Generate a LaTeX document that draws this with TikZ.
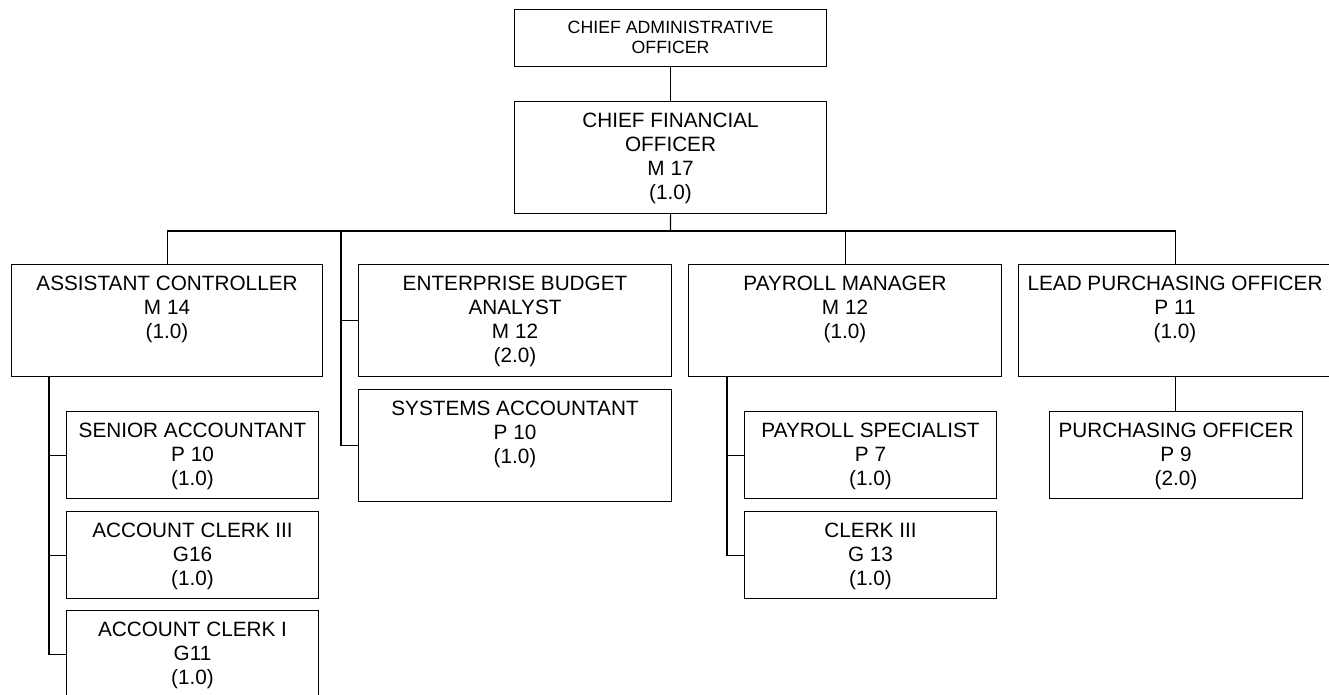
\documentclass[tikz,border=0pt]{standalone}
\usepackage{fontspec}
\setmainfont{Liberation Sans}
\usetikzlibrary{positioning}

\newlength{\pxu}
\setlength{\pxu}{0.75pt}
% text of a post box: width, height, lines
\newcommand{\posttext}[3]{\parbox[c][#2\pxu][t]{#1\pxu}{\centering
  \fontsize{15.55pt}{18pt}\selectfont\rule{0pt}{26\pxu}#3}}
\newcommand{\toptext}[3]{\parbox[c][#2\pxu][t]{#1\pxu}{\centering
  \fontsize{13.3pt}{15pt}\selectfont\rule{0pt}{24\pxu}#3}}

\begin{document}
\begin{tikzpicture}[x=0.75pt,y=-0.75pt]
        \clip (0,0) rectangle (1329,695);
        \begin{scope}[every node/.style={draw,line width=0.8pt,rectangle,inner sep=0pt,anchor=north west}]
          \node (cao) at (514,9) {\toptext{312}{57}{CHIEF ADMINISTRATIVE\\OFFICER}};
          \node (cfo) at (514,101) {\posttext{312}{112}{CHIEF FINANCIAL\\OFFICER\\M 17\\(1.0)}};
          \node (ac) at (11,264) {\posttext{311}{112}{ASSISTANT CONTROLLER\\M 14\\(1.0)}};
          \node (eba) at (358,264) {\posttext{313}{112}{ENTERPRISE BUDGET\\ANALYST\\M 12\\(2.0)}};
          \node (sa) at (358,389) {\posttext{313}{112}{SYSTEMS ACCOUNTANT\\P 10\\(1.0)}};
          \node (pm) at (688,264) {\posttext{313}{112}{PAYROLL MANAGER\\M 12\\(1.0)}};
          \node (lpo) at (1018,264) {\posttext{313}{112}{LEAD PURCHASING OFFICER\\P 11\\(1.0)}};
          \node (sen) at (66,411) {\posttext{252}{87}{SENIOR ACCOUNTANT\\P 10\\(1.0)}};
          \node (ac3) at (66,511) {\posttext{252}{87}{ACCOUNT CLERK III\\G16\\(1.0)}};
          \node (ac1) at (66,610) {\posttext{252}{87}{ACCOUNT CLERK I\\G11\\(1.0)}};
          \node (ps) at (744,411) {\posttext{252}{87}{PAYROLL SPECIALIST\\P 7\\(1.0)}};
          \node (ck3) at (744,511) {\posttext{252}{87}{CLERK III\\G 13\\(1.0)}};
          \node (po) at (1049,411) {\posttext{253}{87}{PURCHASING OFFICER\\P 9\\(2.0)}};
        \end{scope}
        \coordinate (bus) at (670.5,231);
        \coordinate (budget) at (341,231);
        \coordinate (acdrop) at (49,376);
        \coordinate (pmdrop) at (727,376);
        \begin{scope}[line width=0.8pt]
          \draw (cao.south) -- (cfo.north);
          \draw (cfo.south) -- (bus);
          \draw (ac.north) -- (ac.north |- bus) -- (lpo.north |- bus) -- (lpo.north);
          \draw (pm.north) -- (pm.north |- bus);
          \draw (budget) |- (eba.west);
          \draw (budget) |- (sa.west);
          \foreach \n in {sen,ac3,ac1}
            \draw (acdrop) |- (\n.west);
          \foreach \n in {ps,ck3}
            \draw (pmdrop) |- (\n.west);
          \draw (lpo.south) -- (lpo.south |- po.north);
        \end{scope}
      \end{tikzpicture}
\end{document}
